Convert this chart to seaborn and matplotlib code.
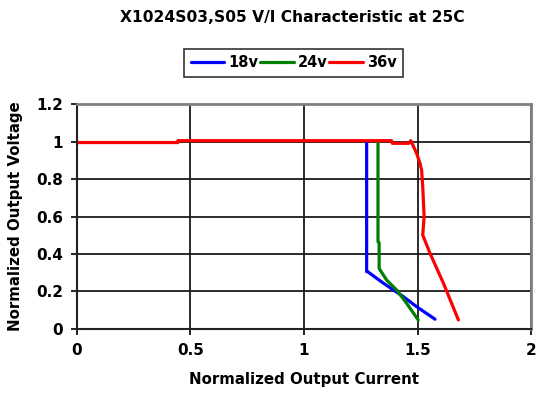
import matplotlib
matplotlib.use("Agg")
import matplotlib.pyplot as plt
import seaborn as sns
import pandas as pd

# V/I characteristic curves, normalized current (x) vs normalized voltage (y)
current_18v = [1.276, 1.276, 1.280, 1.350, 1.438, 1.496, 1.577]
voltage_18v = [1.000, 0.306, 0.306, 0.244, 0.172, 0.119, 0.052]

current_24v = [1.326, 1.326, 1.331, 1.331, 1.364, 1.408, 1.452, 1.503]
voltage_24v = [1.000, 0.466, 0.460, 0.323, 0.261, 0.208, 0.137, 0.048]

current_36v = [0.000, 0.445, 0.445, 1.386, 1.389, 1.462, 1.470, 1.482, 1.496,
               1.511, 1.518, 1.523, 1.529, 1.523, 1.555, 1.614, 1.680]
voltage_36v = [0.995, 0.995, 1.005, 1.005, 0.991, 0.991, 1.005, 0.975, 0.937,
               0.884, 0.848, 0.759, 0.599, 0.501, 0.404, 0.244, 0.048]

series_names = ["18v", "24v", "36v"]
series_colors = ["#0000FF", "#008000", "#FF0000"]

frames = []
for name, xs, ys in zip(series_names,
                        [current_18v, current_24v, current_36v],
                        [voltage_18v, voltage_24v, voltage_36v]):
    frames.append(pd.DataFrame({"current": xs, "voltage": ys,
                                "series": name, "order": range(len(xs))}))
df = pd.concat(frames, ignore_index=True)

sns.set_theme(style="white")
plt.rcParams["font.family"] = ["DejaVu Sans"]
plt.rcParams["font.weight"] = "bold"
plt.rcParams["text.color"] = "black"
plt.rcParams["axes.labelcolor"] = "black"
plt.rcParams["xtick.color"] = "black"
plt.rcParams["ytick.color"] = "black"

fig = plt.figure(figsize=(5.37, 3.93), dpi=100)
ax = fig.add_axes([0.143, 0.163, 0.846, 0.572])

sns.lineplot(data=df, x="current", y="voltage", hue="series",
             hue_order=series_names, palette=series_colors,
             sort=False, estimator=None, units="series",
             linewidth=2.3, ax=ax, legend=True)

ax.set_xlim(0, 2)
ax.set_ylim(0, 1.2)
ax.set_xticks([0, 0.5, 1, 1.5, 2])
ax.set_xticklabels(["0", "0.5", "1", "1.5", "2"])
ax.set_yticks([0, 0.2, 0.4, 0.6, 0.8, 1, 1.2])
ax.set_yticklabels(["0", "0.2", "0.4", "0.6", "0.8", "1", "1.2"])
ax.tick_params(axis="both", direction="out", length=4, width=1.2,
               color="black", labelcolor="black", labelsize=11, pad=6)
ax.tick_params(axis="both", which="both", bottom=True, left=True)
for lbl in ax.get_xticklabels() + ax.get_yticklabels():
    lbl.set_fontweight("bold")

ax.grid(True, color="#1a1a1a", linewidth=1.3)
ax.set_axisbelow(True)

for side in ("left", "bottom"):
    ax.spines[side].set_color("#222222")
    ax.spines[side].set_linewidth(1.5)
for side in ("top", "right"):
    ax.spines[side].set_color("#808080")
    ax.spines[side].set_linewidth(2)

ax.set_xlabel("Normalized Output Current", fontsize=10.8, fontweight="bold",
              labelpad=10, color="black")
ax.set_ylabel("Normalized Output Voltage", fontsize=10.8, fontweight="bold",
              labelpad=9, color="black")

fig.text(0.545, 0.955, "X1024S03,S05 V/I Characteristic at 25C",
         ha="center", va="center", fontsize=11.2, fontweight="bold",
         color="black")

handles, labels = ax.get_legend_handles_labels()
ax.legend_.remove()
leg = fig.legend(handles, labels, loc="center", bbox_to_anchor=(0.547, 0.84),
                 ncol=3, frameon=True, fancybox=False, edgecolor="black",
                 handlelength=2.3, handletextpad=0.3, columnspacing=0.1,
                 borderpad=0.45, borderaxespad=0, labelcolor="black",
                 prop={"weight": "bold", "size": 10.5})
leg.get_frame().set_linewidth(1.2)
for line in leg.get_lines():
    line.set_linewidth(2.3)

fig.savefig("out.png", dpi=100)
